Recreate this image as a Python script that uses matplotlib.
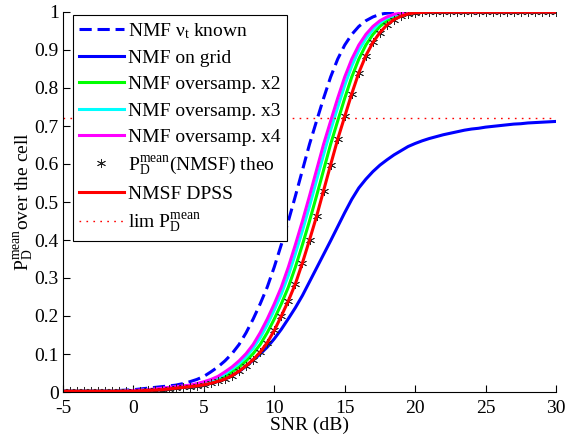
import numpy as np
import matplotlib
matplotlib.use("Agg")
import matplotlib.pyplot as plt

plt.rcParams['font.family'] = ['Liberation Serif', 'DejaVu Serif']
plt.rcParams['mathtext.fontset'] = 'custom'
plt.rcParams['mathtext.rm'] = 'Liberation Serif'
plt.rcParams['mathtext.it'] = 'Liberation Serif:italic'
plt.rcParams['mathtext.bf'] = 'Liberation Serif:bold'

# SNR grid (dB), 0.5 dB steps from -5 to 30
snr = np.arange(-5, 30.01, 0.5)

nmf_known = [0.002, 0.002, 0.002, 0.002, 0.002, 0.002, 0.002, 0.003, 0.004, 0.005, 0.006,
             0.008, 0.010, 0.012, 0.014, 0.016, 0.018, 0.022, 0.027, 0.033, 0.041,
             0.053, 0.066, 0.082, 0.101, 0.125, 0.156, 0.192, 0.232, 0.276, 0.329,
             0.388, 0.450, 0.516, 0.584, 0.652, 0.713, 0.773, 0.829, 0.876, 0.913,
             0.941, 0.962, 0.977, 0.987, 0.994, 0.997, 0.999, 1.0, 1.0, 1.0,
             1.0, 1.0, 1.0, 1.0, 1.0, 1.0, 1.0, 1.0, 1.0, 1.0,
             1.0, 1.0, 1.0, 1.0, 1.0, 1.0, 1.0, 1.0, 1.0, 1.0]

nmf_grid = [0.002, 0.002, 0.002, 0.002, 0.002, 0.002, 0.002, 0.002, 0.002, 0.002, 0.002,
            0.003, 0.004, 0.005, 0.006, 0.008, 0.010, 0.012, 0.014, 0.016, 0.019,
            0.023, 0.028, 0.034, 0.043, 0.054, 0.068, 0.084, 0.100, 0.118, 0.140,
            0.165, 0.193, 0.222, 0.254, 0.290, 0.326, 0.362, 0.398, 0.435, 0.472,
            0.507, 0.537, 0.560, 0.580, 0.597, 0.611, 0.624, 0.635, 0.646, 0.654,
            0.661, 0.667, 0.672, 0.677, 0.681, 0.685, 0.689, 0.692, 0.694, 0.697,
            0.699, 0.701, 0.703, 0.705, 0.706, 0.708, 0.709, 0.710, 0.711, 0.712]

nmf_x2 = [0.002, 0.002, 0.002, 0.002, 0.002, 0.002, 0.002, 0.002, 0.002, 0.002, 0.003,
          0.004, 0.005, 0.006, 0.008, 0.010, 0.012, 0.014, 0.016, 0.018, 0.022,
          0.027, 0.033, 0.041, 0.053, 0.066, 0.082, 0.101, 0.125, 0.156, 0.192,
          0.232, 0.276, 0.329, 0.388, 0.450, 0.516, 0.584, 0.652, 0.713, 0.773,
          0.829, 0.876, 0.913, 0.941, 0.962, 0.977, 0.987, 0.994, 0.997, 0.999,
          1.0, 1.0, 1.0, 1.0, 1.0, 1.0, 1.0, 1.0, 1.0, 1.0,
          1.0, 1.0, 1.0, 1.0, 1.0, 1.0, 1.0, 1.0, 1.0, 1.0]

nmf_x3 = [0.002, 0.002, 0.002, 0.002, 0.002, 0.002, 0.002, 0.002, 0.002, 0.002, 0.003,
          0.004, 0.005, 0.007, 0.009, 0.011, 0.013, 0.015, 0.017, 0.021, 0.025,
          0.030, 0.038, 0.048, 0.061, 0.075, 0.093, 0.115, 0.143, 0.177, 0.216,
          0.258, 0.307, 0.364, 0.425, 0.489, 0.557, 0.625, 0.689, 0.749, 0.807,
          0.858, 0.899, 0.930, 0.954, 0.972, 0.984, 0.991, 0.996, 0.998, 0.999,
          1.0, 1.0, 1.0, 1.0, 1.0, 1.0, 1.0, 1.0, 1.0, 1.0,
          1.0, 1.0, 1.0, 1.0, 1.0, 1.0, 1.0, 1.0, 1.0, 1.0]

nmf_x4 = [0.002, 0.002, 0.002, 0.002, 0.002, 0.002, 0.002, 0.002, 0.002, 0.003, 0.004,
          0.005, 0.006, 0.008, 0.010, 0.012, 0.014, 0.016, 0.018, 0.022, 0.027,
          0.033, 0.041, 0.053, 0.066, 0.082, 0.101, 0.125, 0.156, 0.192, 0.232,
          0.276, 0.329, 0.388, 0.450, 0.516, 0.584, 0.652, 0.713, 0.773, 0.829,
          0.876, 0.913, 0.941, 0.962, 0.977, 0.987, 0.994, 0.997, 0.999, 1.0,
          1.0, 1.0, 1.0, 1.0, 1.0, 1.0, 1.0, 1.0, 1.0, 1.0,
          1.0, 1.0, 1.0, 1.0, 1.0, 1.0, 1.0, 1.0, 1.0, 1.0]

nmsf_theo = [0.002, 0.002, 0.002, 0.002, 0.002, 0.002, 0.002, 0.002, 0.002, 0.002, 0.002,
             0.003, 0.004, 0.005, 0.006, 0.008, 0.010, 0.012, 0.014, 0.016, 0.019,
             0.023, 0.028, 0.034, 0.043, 0.055, 0.069, 0.085, 0.105, 0.130, 0.162,
             0.200, 0.240, 0.285, 0.340, 0.400, 0.462, 0.530, 0.598, 0.665, 0.725,
             0.785, 0.840, 0.885, 0.920, 0.946, 0.966, 0.980, 0.989, 0.995, 0.998,
             0.999, 1.0, 1.0, 1.0, 1.0, 1.0, 1.0, 1.0, 1.0, 1.0,
             1.0, 1.0, 1.0, 1.0, 1.0, 1.0, 1.0, 1.0, 1.0, 1.0]

nmsf_dpss = [0.002, 0.002, 0.002, 0.002, 0.002, 0.002, 0.002, 0.002, 0.002, 0.002, 0.002,
             0.003, 0.004, 0.005, 0.006, 0.008, 0.010, 0.012, 0.014, 0.016, 0.019,
             0.023, 0.028, 0.034, 0.043, 0.055, 0.069, 0.085, 0.105, 0.130, 0.162,
             0.200, 0.240, 0.285, 0.340, 0.400, 0.462, 0.530, 0.598, 0.665, 0.725,
             0.785, 0.840, 0.885, 0.920, 0.946, 0.966, 0.980, 0.989, 0.995, 0.998,
             0.999, 1.0, 1.0, 1.0, 1.0, 1.0, 1.0, 1.0, 1.0, 1.0,
             1.0, 1.0, 1.0, 1.0, 1.0, 1.0, 1.0, 1.0, 1.0, 1.0]

lim_pd = 0.722

labels = [r'NMF ν$_\mathrm{t}$ known',
          'NMF on grid',
          'NMF oversamp. x2',
          'NMF oversamp. x3',
          'NMF oversamp. x4',
          r'$\mathrm{P}_\mathrm{D}^\mathrm{mean}$(NMSF) theo',
          'NMSF DPSS',
          r'lim $\mathrm{P}_\mathrm{D}^\mathrm{mean}$']
xticks = [-5, 0, 5, 10, 15, 20, 25, 30]
yticks = [0, 0.1, 0.2, 0.3, 0.4, 0.5, 0.6, 0.7, 0.8, 0.9, 1]
ytick_labels = ['0', '0.1', '0.2', '0.3', '0.4', '0.5', '0.6', '0.7', '0.8', '0.9', '1']

fig = plt.figure(figsize=(5.65, 4.36), dpi=100)
ax = fig.add_axes([63 / 565, 44 / 436, 493 / 565, 380 / 436])

lw = 2.2
ax.plot(snr, nmf_known, color=(0, 0, 1), lw=lw, linestyle=(0, (4.0, 1.9)), label=labels[0])
ax.plot(snr, nmf_grid, color=(0, 0, 1), lw=lw, label=labels[1])
ax.plot(snr, nmf_x2, color=(0, 1, 0), lw=lw, label=labels[2])
ax.plot(snr, nmf_x3, color=(0, 1, 1), lw=lw, label=labels[3])
ax.plot(snr, nmf_x4, color=(1, 0, 1), lw=lw, label=labels[4])
ax.plot(snr, nmsf_theo, linestyle='none', marker=(6, 2, 0), markersize=6.5,
        markeredgecolor='0.15', markerfacecolor='0.15', markeredgewidth=0.6,
        label=labels[5])
ax.plot(snr, nmsf_dpss, color=(1, 0, 0), lw=lw, label=labels[6])
ax.axhline(lim_pd, color=(1, 0, 0), lw=1.0, linestyle=(0, (1.2, 3.8)), label=labels[7])

ax.set_xlim(-5, 30)
ax.set_ylim(0, 1)
ax.set_xticks(xticks)
ax.set_xticklabels([str(v) for v in xticks])
ax.set_yticks(yticks)
ax.set_yticklabels(ytick_labels)
ax.tick_params(direction='in', length=5, width=0.8, labelsize=14)
ax.tick_params(axis='x', pad=6)
ax.tick_params(axis='y', pad=3)
ax.spines['top'].set_visible(False)
ax.spines['right'].set_visible(False)
for s in ['left', 'bottom']:
    ax.spines[s].set_linewidth(0.8)

ax.set_xlabel('SNR (dB)', fontsize=14, labelpad=-0.5)
ax.set_ylabel(r'$\mathrm{P}_\mathrm{D}^\mathrm{mean}$over the cell', fontsize=14, labelpad=-1)

leg = ax.legend(loc='upper left', bbox_to_anchor=(10 / 493, 377 / 380), borderaxespad=0,
                fontsize=14, handlelength=2.3, handletextpad=0.25, labelspacing=0.45,
                borderpad=0.3, fancybox=False, framealpha=1, edgecolor='black')
leg.get_frame().set_linewidth(0.8)

fig.savefig('out.png', dpi=100)
